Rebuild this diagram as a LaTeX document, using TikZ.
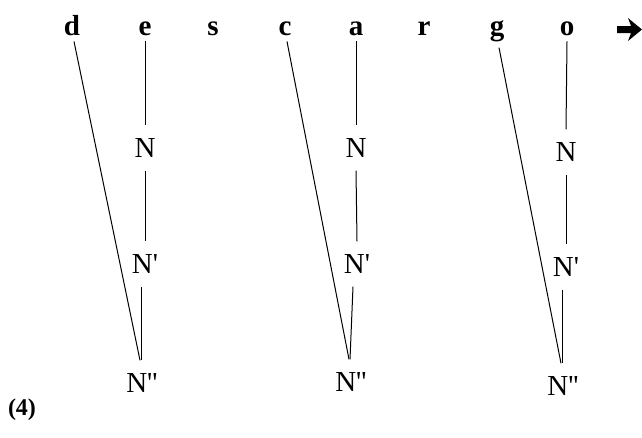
\documentclass[tikz,border=0pt]{standalone}
\usepackage{fontspec}
\setmainfont{Liberation Serif}[Ligatures=TeXOff]
\begin{document}
\begin{tikzpicture}[x=1pt,y=-1pt,
  letter/.style={font=\fontsize{29}{29}\selectfont\bfseries, anchor=base, inner sep=6pt},
  cat/.style={font=\fontsize{29}{29}\selectfont, inner xsep=0pt, inner ysep=13pt, text height=19pt, text depth=0pt},
  edge/.style={line width=1pt}]
\useasboundingbox (0,0) rectangle (642,437);
% top letters
\node[letter] (d) at (72,35) {d};
\node[letter] (e) at (145,35) {e};
\node[letter] (s) at (213,35) {s};
\node[letter] (c) at (285,35) {c};
\node[letter] (a) at (356,35) {a};
\node[letter] (r) at (424,35) {r};
\node[letter] (g) at (497,35) {g};
\node[letter] (o) at (567,35) {o};
% heavy arrow
\fill (617,26) -- (631,26) -- (628,18) -- (642,29.5) -- (628,41) -- (631,33) -- (617,33) -- cycle;
% group 1
\node[cat] (n1) at (145,148) {N};
\node[cat] (n1p) at (145,264) {N'};
\node[cat] (n1pp) at (142,383) {N''};
% group 2
\node[cat] (n2) at (356,148) {N};
\node[cat] (n2p) at (357,264) {N'};
\node[cat] (n2pp) at (351,382) {N''};
% group 3
\node[cat] (n3) at (566,152) {N};
\node[cat] (n3p) at (566,267) {N'};
\node[cat] (n3pp) at (563,386) {N''};
% label
\node[font=\fontsize{24}{24}\selectfont\bfseries, inner sep=0pt] (lab) at (22,410) {(4)};
% connectors
\foreach \t/\m/\p/\pp/\l in {e/n1/n1p/n1pp/d, a/n2/n2p/n2pp/c, o/n3/n3p/n3pp/g}{
  \draw[edge] (\t.south) -- (\m.north);
  \draw[edge] (\m.south) -- (\p.north);
  \draw[edge] ([xshift=-4pt]\p.south) -- ([xshift=-1pt]\pp.north);
  \draw[edge] ([xshift=2pt]\l.south) -- ([xshift=-2pt]\pp.north);
}
\end{tikzpicture}
\end{document}
